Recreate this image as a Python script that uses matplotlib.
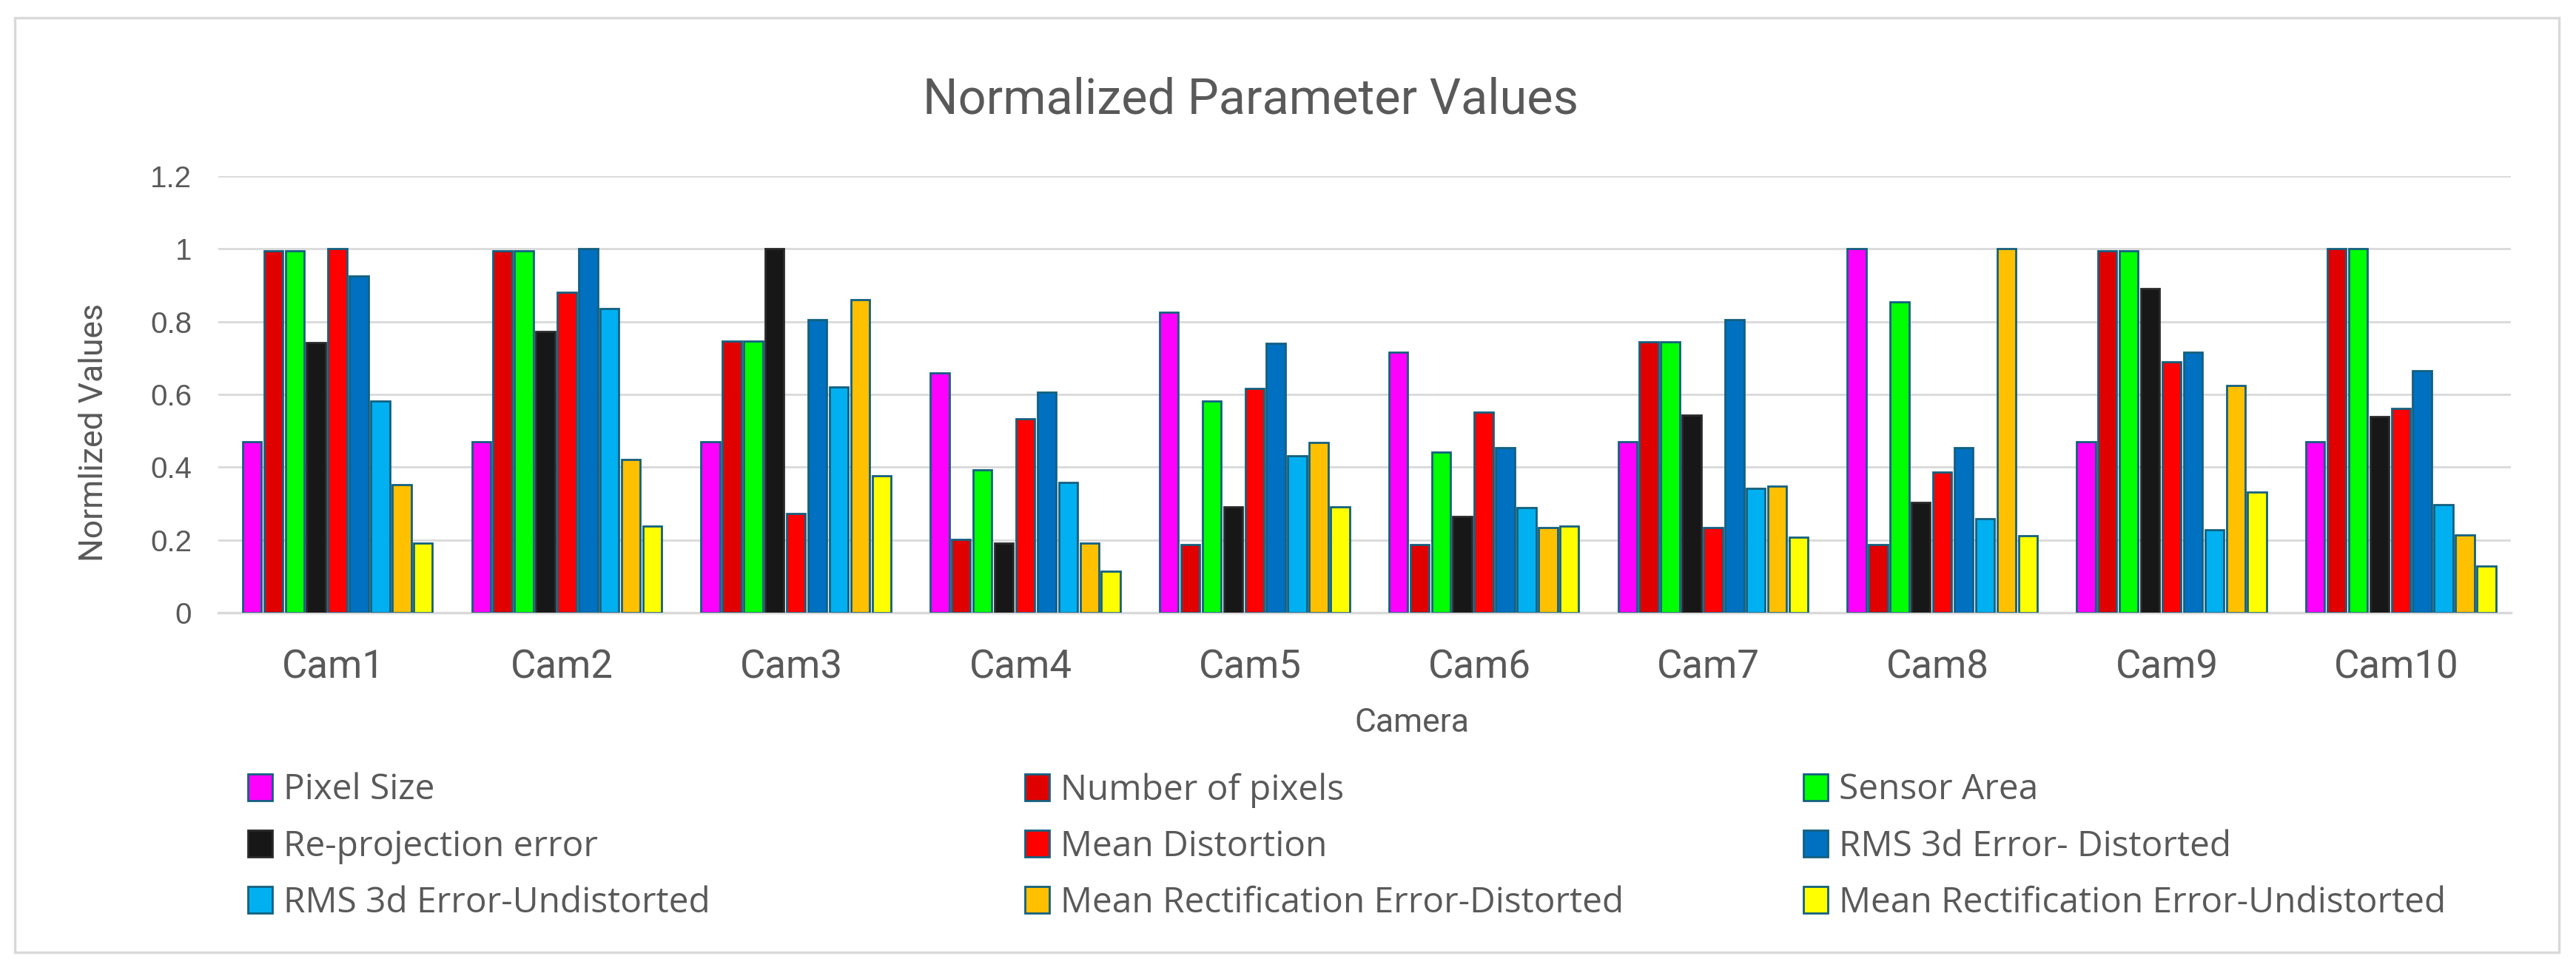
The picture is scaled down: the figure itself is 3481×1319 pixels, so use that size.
import numpy as np
import matplotlib.pyplot as plt
from matplotlib.patches import Rectangle, Patch

# data
cameras = ['Cam1', 'Cam2', 'Cam3', 'Cam4', 'Cam5', 'Cam6', 'Cam7', 'Cam8', 'Cam9', 'Cam10']
series_names = ['Pixel Size', 'Number of pixels', 'Sensor Area',
                'Re-projection error', 'Mean Distortion', 'RMS 3d Error- Distorted',
                'RMS 3d Error-Undistorted', 'Mean Rectification Error-Distorted',
                'Mean Rectification Error-Undistorted']
pixel_size = [0.47, 0.47, 0.47, 0.66, 0.825, 0.715, 0.47, 1.0, 0.47, 0.47]
number_of_pixels = [0.995, 0.995, 0.746, 0.202, 0.187, 0.187, 0.744, 0.187, 0.995, 1.0]
sensor_area = [0.995, 0.995, 0.746, 0.392, 0.582, 0.441, 0.744, 0.854, 0.995, 1.0]
reprojection_error = [0.743, 0.772, 1.0, 0.192, 0.29, 0.265, 0.543, 0.304, 0.891, 0.538]
mean_distortion = [1.0, 0.881, 0.272, 0.532, 0.616, 0.551, 0.233, 0.387, 0.69, 0.562]
rms_3d_distorted = [0.925, 1.0, 0.806, 0.606, 0.741, 0.453, 0.806, 0.453, 0.715, 0.665]
rms_3d_undistorted = [0.582, 0.836, 0.62, 0.357, 0.432, 0.289, 0.342, 0.258, 0.228, 0.297]
mean_rect_distorted = [0.351, 0.422, 0.861, 0.192, 0.467, 0.233, 0.347, 1.0, 0.625, 0.214]
mean_rect_undistorted = [0.192, 0.237, 0.377, 0.113, 0.291, 0.237, 0.207, 0.212, 0.331, 0.128]

all_series = [pixel_size, number_of_pixels, sensor_area, reprojection_error,
              mean_distortion, rms_3d_distorted, rms_3d_undistorted,
              mean_rect_distorted, mean_rect_undistorted]
colors = ['#FF00FF', '#E00000', '#00FF00', '#171717', '#FF0000',
          '#0070C0', '#00B0F0', '#FFC000', '#FFFF00']
edge = '#14607F'
grey_txt = '#595959'

plt.rcParams['font.family'] = ['Roboto', 'DejaVu Sans']

fig = plt.figure(figsize=(34.81, 13.19), dpi=100)
W, H = 3481, 1319

# chart border
fig.patches.append(Rectangle((20 / W, 1 - 1287 / H), 3438 / W, 1263 / H,
                             transform=fig.transFigure, fill=False,
                             edgecolor='#D9D9D9', linewidth=2.5))

ax = fig.add_axes([295 / W, 1 - 828 / H, 3098 / W, 590 / H])

x = np.arange(len(cameras))
slot = 0.0933
bar_w = 0.082
handles = []
for i, (vals, col) in enumerate(zip(all_series, colors)):
    off = (i - 4) * slot + 0.02
    ec = '#2A2A2A' if col == '#171717' else edge
    ax.bar(x + off, vals, bar_w, color=col, edgecolor=ec, linewidth=2.0, zorder=3)
    handles.append(Patch(facecolor=col, edgecolor=ec, linewidth=2.0))

ax.set_xlim(-0.5, 9.5)
ax.set_ylim(0, 1.2)
ax.set_yticks([0, 0.2, 0.4, 0.6, 0.8, 1.0, 1.2])
ax.set_yticklabels(['0', '0.2', '0.4', '0.6', '0.8', '1', '1.2'],
                   fontfamily='Liberation Sans', fontsize=29, color=grey_txt)
ax.set_xticks(x)
ax.set_xticklabels(cameras, fontsize=38, color=grey_txt)
ax.tick_params(axis='both', length=0)
ax.tick_params(axis='y', pad=26)
ax.tick_params(axis='x', pad=35)
ax.grid(axis='y', color='#D9D9D9', linewidth=2.0, zorder=0)
for s in ['top', 'right', 'left']:
    ax.spines[s].set_visible(False)
ax.spines['bottom'].set_color('#D9D9D9')
ax.spines['bottom'].set_linewidth(2.5)

fig.text(1690 / W, 1 - 136 / H, 'Normalized Parameter Values', ha='center', va='center',
         fontsize=48, color=grey_txt)
fig.text(127 / W, 1 - 584 / H, 'Normlized Values', ha='center', va='center',
         rotation=90, fontsize=32, color=grey_txt)
fig.text(1908 / W, 1 - 977 / H, 'Camera', ha='center', va='center',
         fontsize=32, color=grey_txt)

# legend, three columns filled row by row
col_x = [335, 1385, 2437]
for c in range(3):
    idx = [c, c + 3, c + 6]
    leg = fig.legend([handles[k] for k in idx], [series_names[k] for k in idx],
                     loc='upper left', bbox_to_anchor=(col_x[c] / W, 1 - 1044 / H),
                     frameon=False, prop={'family': 'Open Sans', 'size': 34.5},
                     handlelength=0.68, handleheight=0.78,
                     handletextpad=0.33, labelspacing=0.6, borderpad=0,
                     borderaxespad=0)
    for t in leg.get_texts():
        t.set_color(grey_txt)

fig.savefig('out.png', dpi=100, facecolor='white')
